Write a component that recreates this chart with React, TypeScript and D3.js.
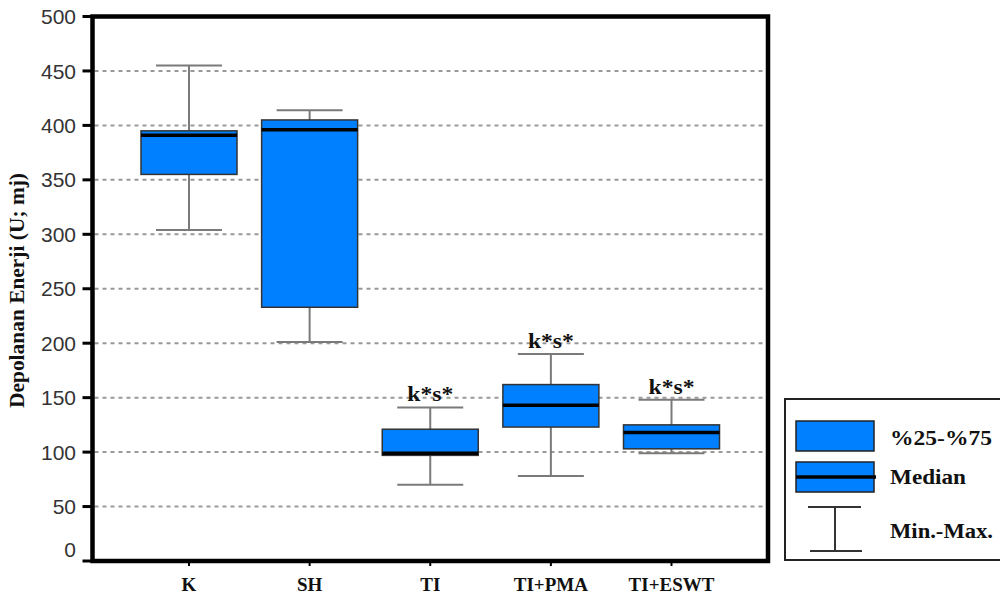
import React from 'react';
import * as d3 from 'd3';

// box plot data
const groups = ['K', 'SH', 'TI', 'TI+PMA', 'TI+ESWT'];
const mins = [304, 201, 70, 78, 99];
const q1s = [355, 233, 97, 123, 103];
const medians = [391, 396, 99, 143, 118];
const q3s = [395, 405, 121, 162, 125];
const maxs = [455, 414, 141, 190, 148];
const marks = ['', '', 'k*s*', 'k*s*', 'k*s*'];
const yTicks = [0, 50, 100, 150, 200, 250, 300, 350, 400, 450, 500];

const legendItems = ['%25-%75', 'Median', 'Min.-Max.'];
const legendWidths = [102, 76, 103];

const W = 1000;
const H = 601;
const left = 92.5, right = 768, top = 16.5, bottom = 561;

const boxFill = '#0080ff';
const serif = '"Liberation Serif", "Times New Roman", serif';
const sans = '"Liberation Sans", Arial, sans-serif';

export default function App() {
  const x = d3.scalePoint<string>().domain(groups).range([left, right]).padding(0.8);
  const y = d3.scaleLinear().domain([0, 500]).range([bottom, top]);
  const boxW = 96;
  const capW = 66;

  const rows = groups.map((g, i) => ({
    g, min: mins[i], q1: q1s[i], med: medians[i], q3: q3s[i], max: maxs[i], mark: marks[i],
  }));

  return (
    <svg width={W} height={H} style={{ position: 'absolute', left: 0, top: 0, background: '#fff' }}>
      {/* grid */}
      {yTicks.filter(t => t > 0 && t < 500).map(t => (
        <line key={'g' + t} x1={left + 2} x2={right - 2} y1={y(t)} y2={y(t)}
          stroke="#999" strokeWidth={2} strokeDasharray="4,4" />
      ))}

      {/* boxes */}
      {rows.map(d => {
        const cx = x(d.g)!;
        return (
          <g key={d.g}>
            <line x1={cx} x2={cx} y1={y(d.max)} y2={y(d.q3)} stroke="#7a7a7a" strokeWidth={2} />
            <line x1={cx} x2={cx} y1={y(d.q1)} y2={y(d.min)} stroke="#7a7a7a" strokeWidth={2} />
            <line x1={cx - capW / 2} x2={cx + capW / 2} y1={y(d.max)} y2={y(d.max)} stroke="#7a7a7a" strokeWidth={2} />
            <line x1={cx - capW / 2} x2={cx + capW / 2} y1={y(d.min)} y2={y(d.min)} stroke="#7a7a7a" strokeWidth={2} />
            <rect x={cx - boxW / 2} y={y(d.q3)} width={boxW} height={y(d.q1) - y(d.q3)}
              fill={boxFill} stroke="#333" strokeWidth={1.5} />
            <line x1={cx - boxW / 2} x2={cx + boxW / 2} y1={y(d.med)} y2={y(d.med)} stroke="#000" strokeWidth={3.5} />
            {d.mark && (
              <text x={cx} y={y(d.max) - 6} textAnchor="middle" fontFamily={serif} fontWeight="bold"
                fontSize={20} textLength={46} lengthAdjust="spacingAndGlyphs" fill="#111">{d.mark}</text>
            )}
          </g>
        );
      })}

      {/* frame */}
      <rect x={left} y={top} width={right - left} height={bottom - top} fill="none" stroke="#000" strokeWidth={4.5} />

      {/* y axis ticks */}
      {yTicks.map(t => (
        <g key={'t' + t}>
          <line x1={left - 10} x2={left} y1={y(t)} y2={y(t)} stroke="#000" strokeWidth={3} />
          <text x={76} y={y(t) - (t === 0 ? 12 : 0)} dy="0.36em" textAnchor="end" fontFamily={sans}
            fontSize={21} fill="#333">{t}</text>
        </g>
      ))}

      {/* x axis ticks and labels */}
      {groups.map(g => (
        <g key={'x' + g}>
          <line x1={x(g)!} x2={x(g)!} y1={bottom} y2={bottom + 5} stroke="#000" strokeWidth={2} />
          <text x={x(g)!} y={591} textAnchor="middle" fontFamily={serif} fontWeight="bold" fontSize={19} fill="#111">{g}</text>
        </g>
      ))}

      {/* y title */}
      <text transform={`translate(24,${(173 + 408) / 2}) rotate(-90)`} textAnchor="middle" fontFamily={serif}
        fontWeight="bold" fontSize={21} textLength={235} lengthAdjust="spacingAndGlyphs" fill="#111">
        Depolanan Enerji (U; mj)
      </text>

      {/* legend */}
      <rect x={785} y={399} width={230} height={161} fill="#fff" stroke="#222" strokeWidth={2} />
      <rect x={796} y={421} width={78} height={30} fill={boxFill} stroke="#222" strokeWidth={1.5} />
      <rect x={796} y={462} width={78} height={30} fill={boxFill} stroke="#222" strokeWidth={1.5} />
      <line x1={796} x2={876} y1={477} y2={477} stroke="#000" strokeWidth={3.5} />
      <line x1={835} x2={835} y1={507} y2={551} stroke="#333" strokeWidth={2} />
      <line x1={808} x2={861} y1={507} y2={507} stroke="#333" strokeWidth={2} />
      <line x1={810} x2={862} y1={551} y2={551} stroke="#333" strokeWidth={2} />
      {legendItems.map((s, i) => (
        <text key={s} x={890} y={[445, 484, 538][i]} fontFamily={serif} fontWeight="bold" fontSize={20}
          textLength={legendWidths[i]} lengthAdjust="spacingAndGlyphs" fill="#111">{s}</text>
      ))}
    </svg>
  );
}
